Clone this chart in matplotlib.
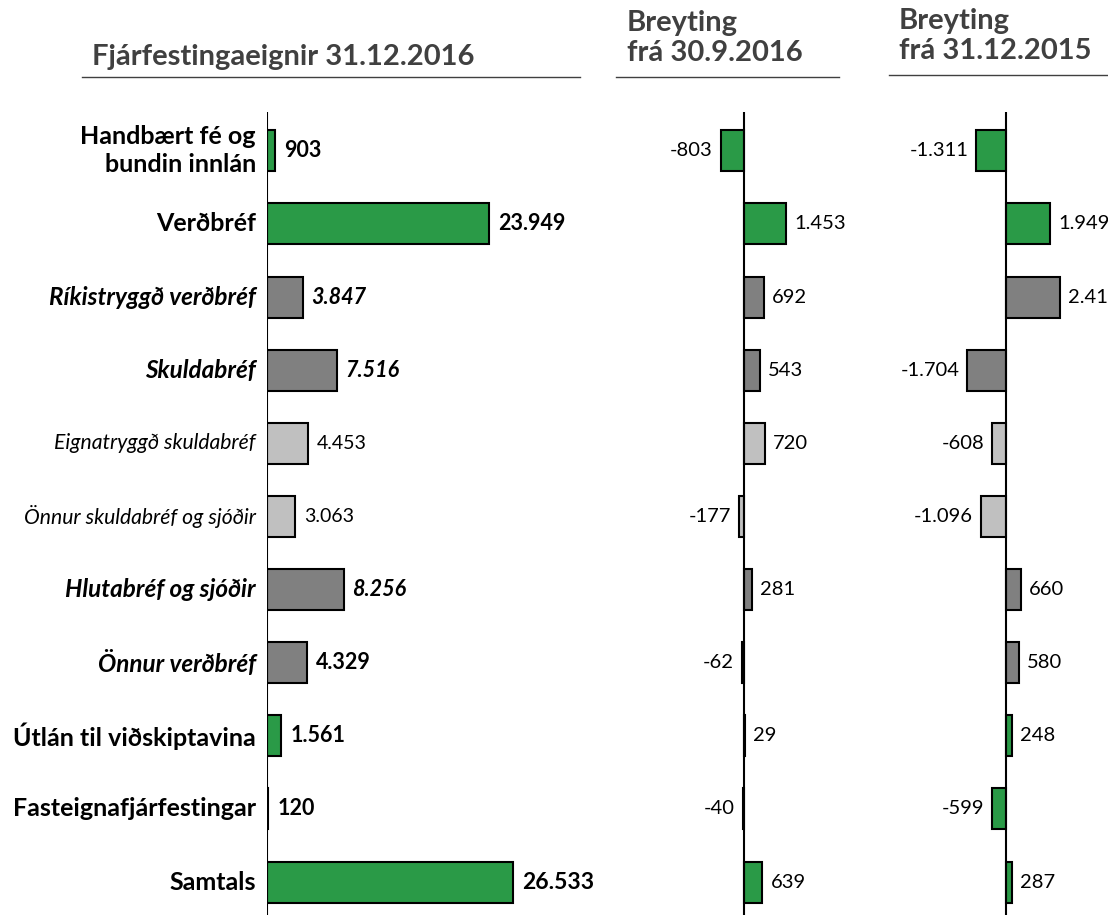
import matplotlib.pyplot as plt

plt.rcParams['font.family'] = ['Lato', 'DejaVu Sans']

categories = ['Handbært fé og\nbundin innlán', 'Verðbréf', 'Ríkistryggð verðbréf', 'Skuldabréf',
              'Eignatryggð skuldabréf', 'Önnur skuldabréf og sjóðir', 'Hlutabréf og sjóðir',
              'Önnur verðbréf', 'Útlán til viðskiptavina', 'Fasteignafjárfestingar', 'Samtals']
holdings = [903, 23949, 3847, 7516, 4453, 3063, 8256, 4329, 1561, 120, 26533]
change_q = [-803, 1453, 692, 543, 720, -177, 281, -62, 29, -40, 639]
change_y = [-1311, 1949, 2410, -1704, -608, -1096, 660, 580, 248, -599, 287]
change_y_labels = ['-1.311', '1.949', '2.41', '-1.704', '-608', '-1.096', '660', '580', '248', '-599', '287']
levels = ['top', 'top', 'mid', 'mid', 'sub', 'sub', 'mid', 'mid', 'top', 'top', 'top']

colors = {'top': '#2a9a47', 'mid': '#808080', 'sub': '#c0c0c0'}
label_font = {'top': dict(fontweight='bold', fontstyle='normal', fontsize=18),
              'mid': dict(fontweight='bold', fontstyle='italic', fontsize=17.5),
              'sub': dict(fontweight='normal', fontstyle='italic', fontsize=15.2)}
value_font = {'top': dict(fontweight='bold', fontstyle='normal', fontsize=15.5),
              'mid': dict(fontweight='bold', fontstyle='italic', fontsize=15.5),
              'sub': dict(fontweight='normal', fontstyle='normal', fontsize=14)}

W, H = 1108, 915
fig = plt.figure(figsize=(W / 100, H / 100), dpi=100)


def fmt(v):
    return f'{v:,}'.replace(',', '.')


def make_axes(x0, x1, zero_px, px_per_unit):
    # axes placed in pixels, top edge at y=112
    ax = fig.add_axes([x0 / W, 0, (x1 - x0) / W, (H - 112) / H])
    ax.set_xlim(-(zero_px - x0) / px_per_unit, (x1 - zero_px) / px_per_unit)
    ax.set_ylim(10.45, -0.53)
    ax.axis('off')
    ax.axvline(0, color='black', lw=1.5, zorder=3)
    return ax


def draw_bars(ax, values, labels, pad, main=False):
    ax.barh(range(len(values)), values, height=0.56, color=[colors[l] for l in levels],
            edgecolor='black', linewidth=1.5, zorder=2)
    for i, (v, lab) in enumerate(zip(values, labels)):
        kw = dict(fontsize=14.5)
        if main:
            kw = value_font[levels[i]]
            if categories[i] == 'Önnur verðbréf':
                kw = value_font['top']
            if i == len(values) - 1:
                kw = dict(kw, fontsize=16.5)
        if v >= 0:
            ax.text(v + pad, i, lab, ha='left', va='center', **kw)
        else:
            ax.text(v - pad, i, lab, ha='right', va='center', **kw)


# main panel
ax1 = make_axes(267, 600, 267, 0.00927)
draw_bars(ax1, holdings, [fmt(v) for v in holdings], 9 / 0.00927, main=True)
for i, cat in enumerate(categories):
    ax1.text(-11 / 0.00927, i, cat, ha='right', va='center', clip_on=False,
             linespacing=1.25, **label_font[levels[i]])

# change since 30.9.2016
ax2 = make_axes(650, 860, 744, 0.0289)
draw_bars(ax2, change_q, [fmt(v) for v in change_q], 8 / 0.0289)

# change since 31.12.2015
ax3 = make_axes(880, 1108, 1006, 0.0226)
draw_bars(ax3, change_y, change_y_labels, 8 / 0.0226)

# headers
head = dict(fontsize=21, fontweight='bold', color='#404040')
fig.text(92 / W, 1 - 57 / H, 'Fjárfestingaeignir 31.12.2016', ha='left', va='center', **head)
fig.text(627 / W, 1 - 38 / H, 'Breyting\nfrá 30.9.2016', ha='left', va='center', linespacing=1.2, **head)
fig.text(899 / W, 1 - 36 / H, 'Breyting\nfrá 31.12.2015', ha='left', va='center', linespacing=1.2, **head)
for x0, x1, y in [(82, 580, 77), (616, 839, 77), (889, 1108, 75)]:
    fig.add_artist(plt.Line2D([x0 / W, x1 / W], [1 - y / H, 1 - y / H], color='#404040', lw=1))

fig.savefig('out.png', dpi=100)
